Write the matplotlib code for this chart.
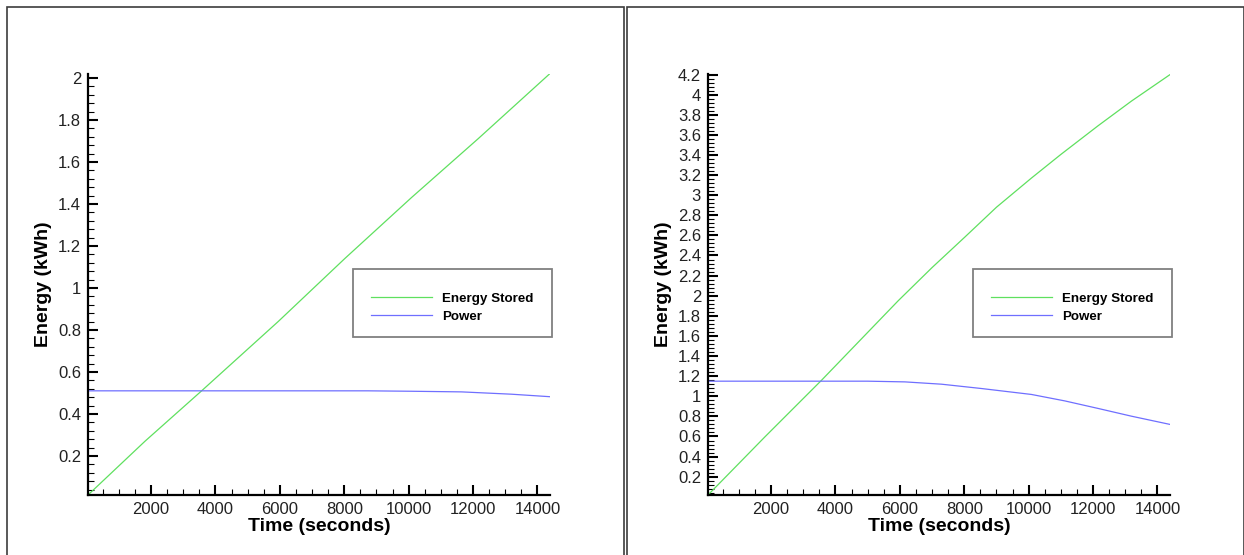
import matplotlib
matplotlib.use("Agg")
import matplotlib.pyplot as plt
from matplotlib.patches import Rectangle
from matplotlib.ticker import MultipleLocator, AutoMinorLocator

plt.rcParams["font.family"] = ["Liberation Sans", "DejaVu Sans"]

# ------------------------------------------------------------
# datos
# ------------------------------------------------------------
# panel izquierdo
t_energia_izq = [40, 1810, 3569, 5948, 8017, 10086, 12155, 14390]
energia_izq = [0.014, 0.27, 0.51, 0.84, 1.14, 1.43, 1.71, 2.021]
t_potencia_izq = [40, 3000, 6000, 8740, 10086, 11640, 13190, 14390]
potencia_izq = [0.51, 0.51, 0.51, 0.51, 0.508, 0.505, 0.494, 0.482]

# panel derecho
t_energia_der = [40, 1810, 3569, 5948, 7000, 8017, 9000, 10086, 11000, 12155, 13190, 14390]
energia_der = [0.018, 0.597, 1.16, 1.95, 2.28, 2.583, 2.88, 3.17, 3.405, 3.69, 3.935, 4.199]
t_potencia_der = [40, 3000, 5000, 6155, 7293, 8534, 10086, 11120, 12155, 13190, 14390]
potencia_der = [1.15, 1.15, 1.15, 1.143, 1.12, 1.077, 1.018, 0.954, 0.879, 0.802, 0.72]

limites_y = [(0.014, 2.021), (0.018, 4.21)]
etiquetas = ["Energy Stored", "Power"]

verde = "#5fe05f"
azul = "#6f6fff"

fig = plt.figure(figsize=(12.44, 5.55), dpi=100)

# marcos de cada panel
for x0 in [7 / 1244, 627 / 1244]:
    fig.patches.append(Rectangle((x0, -0.05), 616.5 / 1244, 1.05 - 6.5 / 555,
                                 transform=fig.transFigure, fill=False,
                                 edgecolor="#3c3c3c", linewidth=1.2))

paneles = [
    (88 / 1244, t_energia_izq, energia_izq, t_potencia_izq, potencia_izq),
    (708 / 1244, t_energia_der, energia_der, t_potencia_der, potencia_der),
]

for i, (izq, te, e, tp, p) in enumerate(paneles):
    ax = fig.add_axes([izq, 1 - 495 / 555, 462 / 1244, 421.5 / 555])
    ax.plot(te, e, color=verde, lw=0.9, label=etiquetas[0])
    ax.plot(tp, p, color=azul, lw=0.9, label=etiquetas[1])

    ax.set_xlim(40, 14390)
    ax.set_ylim(*limites_y[i])
    ax.xaxis.set_major_locator(MultipleLocator(2000))
    ax.xaxis.set_minor_locator(AutoMinorLocator(4))
    ax.yaxis.set_major_locator(MultipleLocator(0.2))
    ax.yaxis.set_minor_locator(AutoMinorLocator(5))
    ax.yaxis.set_major_formatter(plt.FuncFormatter(lambda v, pos: f"{v:g}"))

    for lado in ["top", "right"]:
        ax.spines[lado].set_visible(False)
    for lado in ["left", "bottom"]:
        ax.spines[lado].set_linewidth(1.6)
        ax.spines[lado].set_color("black")

    ax.tick_params(which="major", direction="in", length=7.5, width=1.5,
                   labelsize=12, pad=5, colors="black")
    ax.tick_params(which="minor", direction="in", length=4, width=0.8)
    ax.tick_params(axis="y", labelcolor="#222222")
    ax.tick_params(axis="x", labelcolor="#222222")

    ax.set_xlabel("Time (seconds)", fontsize=14, fontweight="bold", labelpad=1)
    ax.set_ylabel("Energy (kWh)", fontsize=14, fontweight="bold", labelpad=4)

    # leyenda
    ax.add_patch(Rectangle((0.5736, 0.375), 0.4307, 0.161, transform=ax.transAxes,
                           fill=True, facecolor="white", edgecolor="#808080",
                           linewidth=1.3, clip_on=False, zorder=3))
    ley = ax.legend(loc="center left", bbox_to_anchor=(0.6126, 0.445),
                    frameon=False, borderpad=0, borderaxespad=0,
                    handlelength=4.6, handletextpad=0.75, labelspacing=0.42,
                    prop={"size": 9.6, "weight": "bold"})
    ley.set_zorder(4)

fig.savefig("out.png", dpi=100)
